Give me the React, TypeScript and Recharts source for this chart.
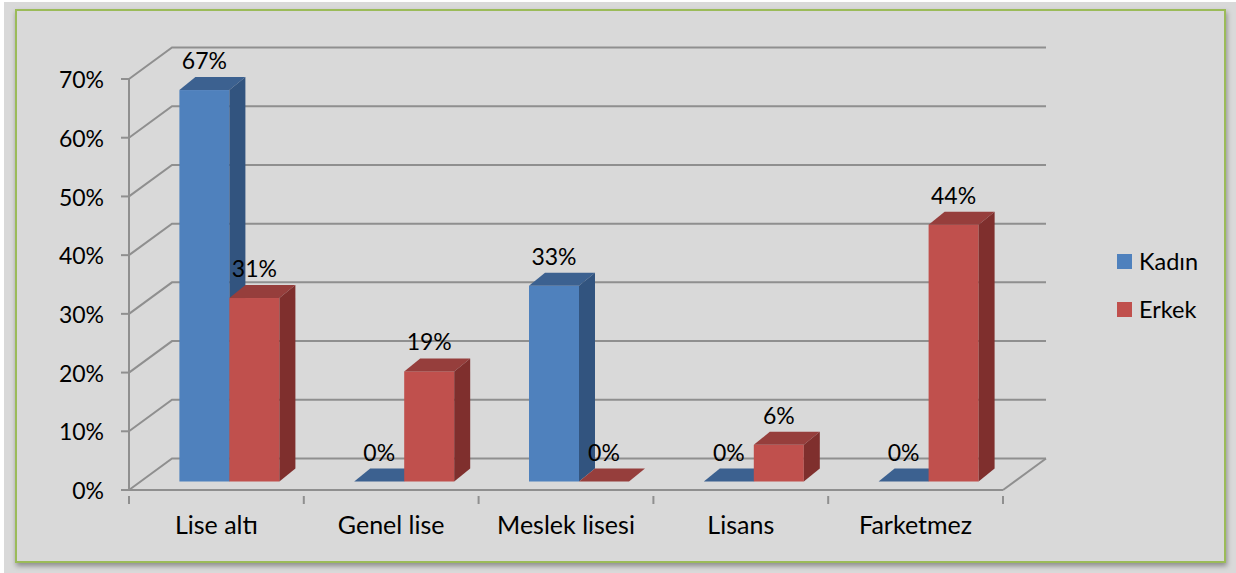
import React from 'react';
import { BarChart, Bar, XAxis, YAxis, CartesianGrid, Legend, LabelList } from 'recharts';

const categories = ['Lise altı', 'Genel lise', 'Meslek lisesi', 'Lisans', 'Farketmez'];
const kadinValues = [66.67, 0, 33.33, 0, 0];
const erkekValues = [31.25, 18.75, 0, 6.25, 43.75];
const yTicks = [0, 10, 20, 30, 40, 50, 60, 70];
const seriesOrder = ['Kadın', 'Erkek'];

const chartData = categories.map((name, i) => ({
  name,
  kadin: kadinValues[i],
  erkek: erkekValues[i],
}));

const FONT = 'Lato, sans-serif';
const GRID = '#8f8f8f';
const PLOT_WIDTH = 874;
const BAND = PLOT_WIDTH / categories.length;

// projection of the floor, and of the bars standing on it
const WALL_DX = 43;
const WALL_DY = 31.5;
const BAR_DX = 13.4;
const BAR_DY = 8.5;
const DEPTH_DX = 16;
const DEPTH_DY = 13;

const Bar3D = (colors: { front: string; top: string; side: string }) => (props: any) => {
  const x = props.x + BAR_DX;
  const y = props.y - BAR_DY;
  const { width, height } = props;
  const right = x + width;
  return (
    <g>
      {height > 0 && <rect x={x} y={y} width={width} height={height} fill={colors.front} />}
      <polygon
        points={`${x},${y} ${x + DEPTH_DX},${y - DEPTH_DY} ${right + DEPTH_DX},${y - DEPTH_DY} ${right},${y}`}
        fill={colors.top}
      />
      {height > 0 && (
        <polygon
          points={`${right},${y} ${right + DEPTH_DX},${y - DEPTH_DY} ${right + DEPTH_DX},${y + height - DEPTH_DY} ${right},${y + height}`}
          fill={colors.side}
        />
      )}
    </g>
  );
};

const ValueLabel = (props: any) => {
  const { x, y, width, value } = props;
  return (
    <text
      x={x + width / 2 + BAR_DX}
      y={y - BAR_DY - 21}
      textAnchor="middle"
      fontFamily={FONT}
      fontSize={23}
      fill="#000"
    >
      {`${Math.round(value)}%`}
    </text>
  );
};

const GridLine = (props: any) => {
  const { x1, y1, x2, index } = props;
  const backY = y1 - WALL_DY;
  const backLeft = x1 + WALL_DX;
  const backRight = x2 + WALL_DX;
  return (
    <g key={`grid-${index}`} fill="none" stroke={GRID} strokeWidth={2}>
      <polyline points={`${x1},${y1} ${backLeft},${backY} ${backRight},${backY}`} />
      {y1 > 480 && <line x1={x2} y1={y1} x2={backRight} y2={backY} />}
    </g>
  );
};

const CategoryTick = (props: any) => {
  const { x, y, payload, index } = props;
  const left = x - BAND / 2;
  const right = x + BAND / 2;
  return (
    <g>
      <line x1={left} y1={y - 8} x2={left} y2={y} stroke={GRID} strokeWidth={2} />
      {index === categories.length - 1 && <line x1={right} y1={y - 8} x2={right} y2={y} stroke={GRID} strokeWidth={2} />}
      <text x={x} y={y + 30} textAnchor="middle" fontFamily={FONT} fontSize={25} fill="#000">
        {payload.value}
      </text>
    </g>
  );
};

const LegendBox = (props: any) => (
  <div>
    {(props.payload || []).map((item: any) => (
      <div key={item.value} style={{ display: 'flex', alignItems: 'center', height: 48 }}>
        <span style={{ width: 15, height: 15, background: item.color, marginRight: 7 }} />
        <span style={{ fontFamily: FONT, fontSize: 23.5, color: '#000' }}>{item.value}</span>
      </div>
    ))}
  </div>
);

export default function App() {
  return (
    <div style={{ position: 'absolute', left: 0, top: 0, width: 1236, height: 573, background: '#fff', overflow: 'hidden' }}>
      <div style={{ position: 'absolute', left: 4, top: 2, width: 1232, height: 571, background: '#d9d9d9' }} />
      <div
        style={{
          position: 'absolute',
          left: 15,
          top: 9,
          width: 1211,
          height: 554,
          boxSizing: 'border-box',
          border: '2px solid #9bbb59',
          boxShadow: '1px 3px 5px rgba(0,0,0,0.35)',
        }}
      />
      <div style={{ position: 'absolute', left: 0, top: 0 }}>
        <BarChart
          width={1236}
          height={573}
          data={chartData}
          // the vertical legend takes 110px of the right margin by itself
          margin={{ top: 79, right: 123, bottom: 0, left: 0 }}
          barSize={50}
          barGap={0}
        >
          <CartesianGrid vertical={false} horizontal={GridLine} syncWithTicks />
          <XAxis
            dataKey="name"
            height={83}
            interval={0}
            axisLine={{ stroke: GRID, strokeWidth: 2 }}
            tickLine={false}
            tick={CategoryTick}
            tickMargin={8}
          />
          <YAxis
            width={129}
            domain={[0, 70]}
            ticks={yTicks}
            interval={0}
            tickFormatter={(v: number) => `${v}%`}
            axisLine={{ stroke: GRID, strokeWidth: 2 }}
            tickLine={{ stroke: GRID, strokeWidth: 2 }}
            tickSize={8}
            tickMargin={17}
            tick={{ fontFamily: FONT, fontSize: 23, fill: '#000', dy: 1 }}
          />
          <Legend
            layout="vertical"
            align="right"
            verticalAlign="top"
            wrapperStyle={{ left: 1117, top: 237, width: 110 }}
            itemSorter={(item: any) => seriesOrder.indexOf(item.value)}
            content={LegendBox}
          />
          <Bar
            dataKey="kadin"
            name="Kadın"
            fill="#4f81bd"
            isAnimationActive={false}
            shape={Bar3D({ front: '#4f81bd', top: '#3c6190', side: '#32547f' })}
          >
            <LabelList dataKey="kadin" content={ValueLabel} />
          </Bar>
          <Bar
            dataKey="erkek"
            name="Erkek"
            fill="#c0504d"
            isAnimationActive={false}
            shape={Bar3D({ front: '#c0504d', top: '#963e3c', side: '#7f2f2d' })}
          >
            <LabelList dataKey="erkek" content={ValueLabel} />
          </Bar>
        </BarChart>
      </div>
    </div>
  );
}
